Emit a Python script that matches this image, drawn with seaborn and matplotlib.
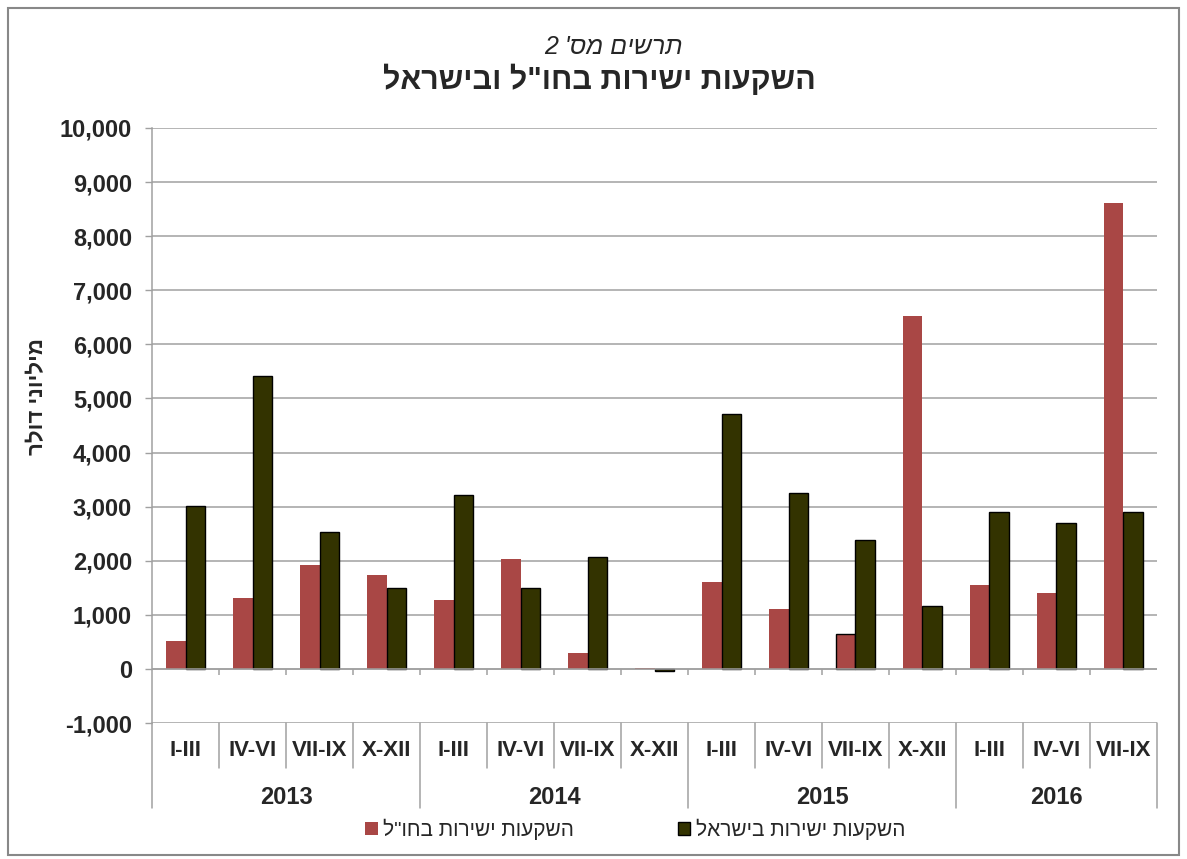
import matplotlib
matplotlib.use("Agg")
import matplotlib.pyplot as plt
import matplotlib.transforms as mtransforms
from matplotlib.patches import Rectangle, Patch
import seaborn as sns
import pandas as pd

# data (million USD)
quarters = ['I-III', 'IV-VI', 'VII-IX', 'X-XII'] * 3 + ['I-III', 'IV-VI', 'VII-IX']
years = ['2013', '2014', '2015', '2016']
year_counts = [4, 4, 4, 3]
abroad = [520, 1315, 1925, 1735, 1280, 2035, 290, 20, 1615, 1115, 640, 6530, 1545, 1400, 8615]
israel = [3010, 5415, 2530, 1490, 3210, 1490, 2060, -35, 4710, 3260, 2390, 1160, 2895, 2705, 2895]

# hebrew strings (logical order)
title_sub = "תרשים מס' 2"
title_main = 'השקעות ישירות בחו"ל ובישראל'
ylabel = 'מיליוני דולר'
name_abroad = 'השקעות ישירות בחו"ל'
name_israel = 'השקעות ישירות בישראל'

red = '#A94745'
dark = '#333300'
grid_c = '#A0A0A0'


def rtl(s):
    # matplotlib has no bidi support, so lay the text out visually
    return s[::-1]


sns.set_style('white')
plt.rcParams['font.family'] = ['Liberation Sans', 'DejaVu Sans']

year_of = [y for y, n in zip(years, year_counts) for _ in range(n)]
periods = [f'{y} {q}' for y, q in zip(year_of, quarters)]
df = pd.DataFrame({
    'period': periods * 2,
    'value': abroad + israel,
    'series': [name_abroad] * len(periods) + [name_israel] * len(periods),
})

fig = plt.figure(figsize=(11.87, 8.59), dpi=100)
ax = fig.add_axes([0.1281, 0.1583, 0.8466, 0.6927])

sns.barplot(data=df, x='period', y='value', hue='series', order=periods,
            hue_order=[name_abroad, name_israel], palette=[red, dark],
            width=0.57, errorbar=None, legend=False, ax=ax, saturation=1)

for bar in ax.containers[0]:
    bar.set_edgecolor('none')
for bar in ax.containers[1]:
    bar.set_edgecolor('black')
    bar.set_linewidth(1.0)
ax.containers[0][10].set_edgecolor('black')
ax.containers[0][10].set_linewidth(1.0)

ax.set_ylim(-1000, 10000)
ax.set_xlim(-0.5, len(periods) - 0.5)
ax.set_yticks(range(-1000, 10001, 1000))
ax.set_yticklabels([f'{v:,}' for v in range(-1000, 10001, 1000)],
                   fontsize=17, fontweight='bold')
ax.yaxis.grid(True, color=grid_c, linewidth=1.1)
ax.set_axisbelow(True)
ax.tick_params(axis='y', length=5, width=1, color=grid_c, pad=9.5, left=True)
ax.set_xticks([])
ax.set_xlabel('')
ax.set_ylabel('')
for s in ['top', 'right', 'bottom']:
    ax.spines[s].set_visible(False)
ax.spines['left'].set_color(grid_c)
ax.spines['left'].set_linewidth(1.1)

# category axis at zero with small ticks
ax.axhline(0, color=grid_c, linewidth=1.1, zorder=3)
ax.vlines([i - 0.5 for i in range(1, len(periods))], -110, 0,
          color=grid_c, linewidth=1.1, zorder=3)

# two-level category table under the plot
trans = mtransforms.blended_transform_factory(ax.transData, ax.transAxes)
bounds = [0]
for n in year_counts:
    bounds.append(bounds[-1] + n)
for i in range(len(periods) + 1):
    depth = -0.143 if i in bounds else -0.076
    ax.plot([i - 0.5, i - 0.5], [0, depth], transform=trans, color=grid_c,
            linewidth=1.1, clip_on=False)
for i, q in enumerate(quarters):
    ax.text(i, -0.047, q, transform=trans, ha='center', va='center',
            fontsize=16, fontweight='bold')
for k, y in enumerate(years):
    mid = (bounds[k] + bounds[k + 1] - 1) / 2
    ax.text(mid, -0.126, y, transform=trans, ha='center', va='center',
            fontsize=17, fontweight='bold')

# titles and axis label
fig.text(0.517, 0.945, rtl(title_sub), ha='center', va='center',
         fontsize=18, fontstyle='italic')
fig.text(0.505, 0.906, rtl(title_main), ha='center', va='center',
         fontsize=22, fontweight='bold')
fig.text(0.032, 0.538, rtl(ylabel), ha='center', va='center', rotation=90,
         fontsize=16, fontweight='bold')

# legend
handles = [Patch(facecolor=red, edgecolor='none'),
           Patch(facecolor=dark, edgecolor='black', linewidth=1.0)]
fig.legend(handles, [rtl(name_abroad), rtl(name_israel)], loc='center',
           bbox_to_anchor=(0.535, 0.035), ncol=2, frameon=False,
           fontsize=15, handlelength=0.6, handleheight=0.6,
           handletextpad=0.25, columnspacing=5.0)

# outer chart border
fig.patches.append(Rectangle((0.0067, 0.0047), 0.9866, 0.9860,
                             transform=fig.transFigure, fill=False,
                             edgecolor='#888888', linewidth=1.5))

fig.savefig('out.png', dpi=100)
